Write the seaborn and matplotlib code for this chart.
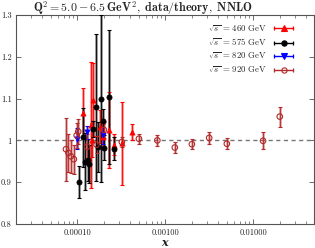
import numpy as np
import pandas as pd
import seaborn as sns
import matplotlib
matplotlib.use("Agg")
import matplotlib.pyplot as plt
from matplotlib.lines import Line2D
from matplotlib.legend_handler import HandlerLine2D

# ---------------- data ----------------
x_460 = [1.15e-4, 1.41e-4, 1.45e-4, 1.49e-4, 1.80e-4, 1.93e-4, 2.28e-4, 2.62e-4, 3.20e-4, 4.13e-4]
r_460 = [1.066, 1.037, 1.001, 1.097, 1.033, 1.009, 1.025, 0.990, 0.993, 1.020]
e_460 = [0.060, 0.150, 0.040, 0.087, 0.040, 0.030, 0.090, 0.026, 0.100, 0.020]

x_575 = [1.04e-4, 1.16e-4, 1.22e-4, 1.32e-4, 1.36e-4, 1.50e-4, 1.64e-4, 1.71e-4,
         1.83e-4, 1.96e-4, 2.03e-4, 2.28e-4, 2.62e-4]
r_575 = [0.901, 1.007, 0.949, 0.954, 0.943, 1.027, 1.079, 0.985,
         1.100, 1.046, 0.983, 1.104, 0.980]
e_575 = [0.038, 0.070, 0.068, 0.050, 0.045, 0.020, 0.175, 0.060,
         0.200, 0.030, 0.030, 0.160, 0.028]

x_820 = [0.99e-4, 1.29e-4, 1.96e-4]
r_820 = [1.004, 1.019, 1.012]
e_820 = [0.025, 0.016, 0.020]

x_920 = [7.4e-5, 7.9e-5, 8.4e-5, 9.1e-5, 9.8e-5, 1.02e-4, 1.29e-4, 1.65e-4, 2.0e-4,
         3.2e-4, 5.0e-4, 8.1e-4, 1.28e-3, 2.0e-3, 3.15e-3, 5.0e-3, 1.29e-2, 2.0e-2]
r_920 = [0.979, 0.970, 0.962, 0.955, 1.012, 1.021, 0.985, 0.990, 1.025,
         0.996, 1.004, 1.000, 0.983, 0.991, 1.006, 0.992, 0.999, 1.057]
e_920 = [0.075, 0.045, 0.040, 0.035, 0.030, 0.030, 0.030, 0.020, 0.020,
         0.012, 0.012, 0.013, 0.013, 0.012, 0.014, 0.013, 0.020, 0.024]

energies = ["460", "575", "820", "920"]
yticks = [0.8, 0.9, 1.0, 1.1, 1.2, 1.3]
ytick_labels = ["0.8", "0.9", "1", "1.1", "1.2", "1.3"]
xticks = [1e-4, 1e-3, 1e-2]
xtick_labels = ["0.00010", "0.00100", "0.01000"]

series = {
    "460": (x_460, r_460, e_460),
    "575": (x_575, r_575, e_575),
    "820": (x_820, r_820, e_820),
    "920": (x_920, r_920, e_920),
}
colors = {"460": "#ff0000", "575": "#000000", "820": "#0000ff", "920": "#b22a2a"}
markers = {"460": "^", "575": "o", "820": "v", "920": "o"}
filled = {"460": True, "575": True, "820": True, "920": False}

# ---------------- style ----------------
sns.set_theme(style="ticks")
plt.rcParams.update({
    "font.family": "cmr10",
    "mathtext.fontset": "cm",
    "axes.unicode_minus": False,
    "axes.edgecolor": "#555555",
    "axes.linewidth": 0.8,
    "xtick.color": "#555555",
    "ytick.color": "#555555",
    "xtick.labelcolor": "#222222",
    "ytick.labelcolor": "#222222",
})

fig = plt.figure(figsize=(3.15, 2.48), dpi=100)
ax = fig.add_axes([16 / 315, 1 - 224 / 248, 298 / 315, 209 / 248])

ax.axhline(1.0, color="#777777", lw=1.0, ls=(0, (3, 2.5)), zorder=1)

handles = []
for en in energies:
    xs, ys, es = series[en]
    c = colors[en]
    df = pd.DataFrame({"x": xs, "ratio": ys, "err": es})
    # wide, light part of the bars
    ax.errorbar(df["x"], df["ratio"], yerr=df["err"], fmt="none", ecolor=c,
                alpha=0.5, elinewidth=1.8, capsize=0, zorder=2)
    # thin part with caps
    ax.errorbar(df["x"], df["ratio"], yerr=df["err"], fmt="none", ecolor=c,
                elinewidth=0.6, capsize=1.6, capthick=0.8, zorder=3)
    if filled[en]:
        sns.scatterplot(data=df, x="x", y="ratio", ax=ax, marker=markers[en],
                        s=14, color=c, edgecolor=c, linewidth=0.5, zorder=4)
    else:
        sns.scatterplot(data=df, x="x", y="ratio", ax=ax, marker="o",
                        s=16, color="none", edgecolor=c, linewidth=0.8, zorder=4)
    caps = Line2D([], [], color=c, lw=1.0, marker="|", ms=3.5, mew=0.9)
    mk = Line2D([], [], ls="none", color=c, marker=markers[en], ms=3.8,
                mfc=c if filled[en] else "none", mec=c, mew=0.8)
    handles.append((caps, mk))

ax.set_xscale("log")
ax.set_xlim(2.0e-5, 0.049)
ax.set_ylim(0.8, 1.3)
ax.set_xticks(xticks, labels=xtick_labels)
ax.set_yticks(yticks, labels=ytick_labels)
ax.tick_params(which="both", direction="in", top=True, right=True, labelsize=6, pad=3)
ax.tick_params(which="major", length=3.5, width=0.6)
ax.tick_params(which="minor", length=2, width=0.5)
ax.set_xlabel("")
ax.set_ylabel("")

fig.text(165 / 315, 1 - 246 / 248, "x", family="DejaVu Serif", style="italic",
         weight="bold", fontsize=8, ha="center", va="baseline")
fig.text(33 / 315, 1 - 13 / 248,
         r"$\mathbf{Q^2 = 5.0 - 6.5\,GeV^2,\ data/theory,\ NNLO}$",
         fontsize=8.6, ha="left", va="baseline")

labels = [r"$\sqrt{s}$ = %s GeV" % en for en in energies]
hmap = {h[0]: HandlerLine2D(numpoints=2) for h in handles}
hmap.update({h[1]: HandlerLine2D(numpoints=1) for h in handles})
ax.legend(handles, labels, handler_map=hmap, loc="upper right",
          bbox_to_anchor=(296 / 315, 1 - 23 / 248), bbox_transform=fig.transFigure,
          frameon=False, markerfirst=False, fontsize=6.3, handlelength=2.8,
          handletextpad=0.5, labelspacing=0.35, borderpad=0, borderaxespad=0)

fig.savefig("out.png", dpi=100)
